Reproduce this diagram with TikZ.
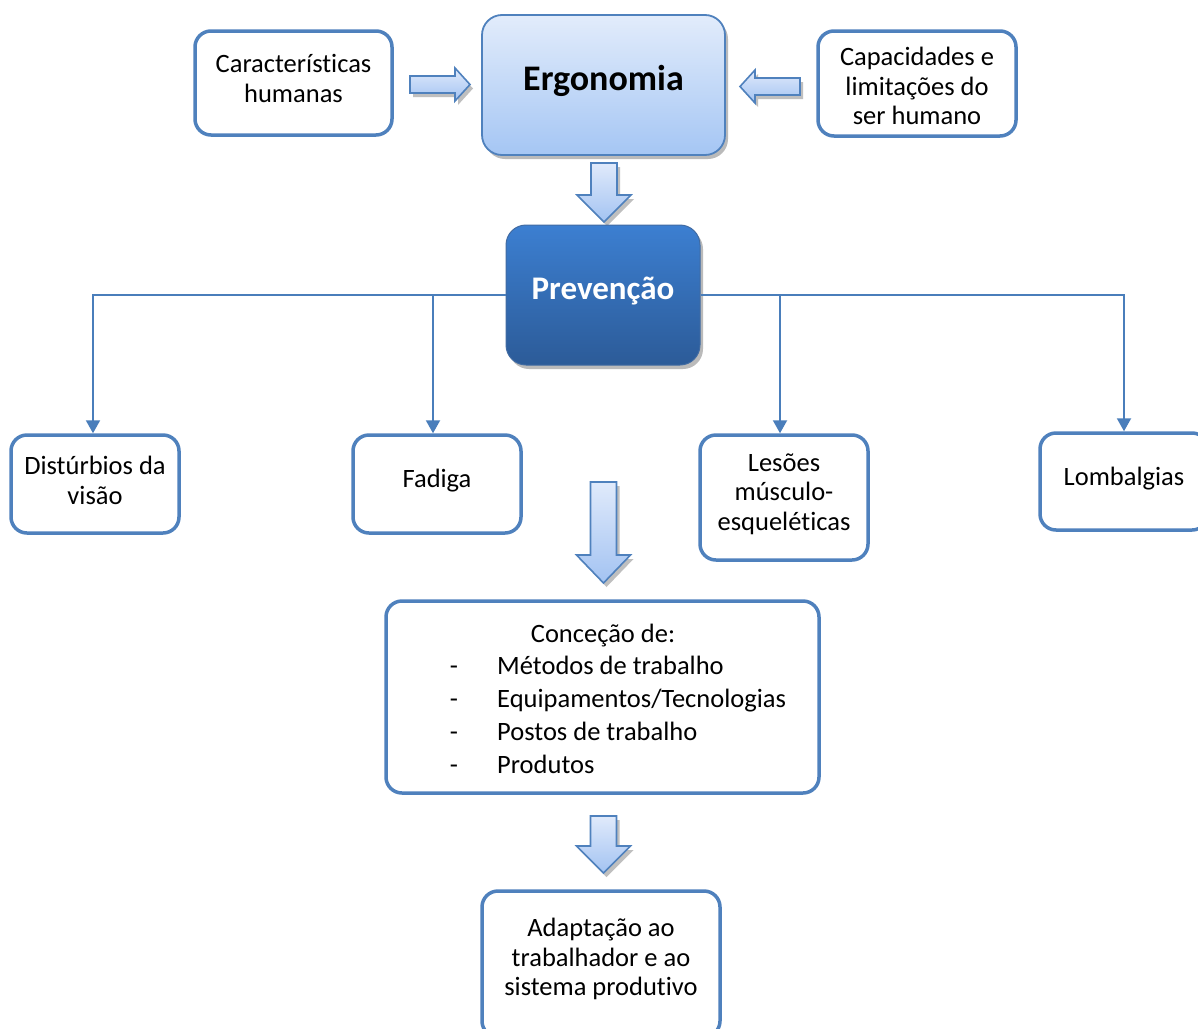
\documentclass[tikz,border=0pt]{standalone}
\usepackage{fontspec}
\setmainfont{Carlito}[Ligatures=NoCommon]
\usetikzlibrary{arrows.meta,shadows}
\definecolor{bord}{HTML}{4F81BD}
\definecolor{lineblue}{HTML}{4A7EBB}
\definecolor{ergtop}{HTML}{E2ECFB}
\definecolor{ergbot}{HTML}{A5C6F4}
\definecolor{prevtop}{HTML}{3C7FD1}
\definecolor{prevbot}{HTML}{2C5B98}
\definecolor{arrtop}{HTML}{E0EAFB}
\definecolor{arrbot}{HTML}{A3C3F2}
\newcommand\myarrdown[4]{%
  \begin{scope}[shift={(3,4)}]
  \fill[black!45,opacity=.55] (#1-13,#2) -- (#1+13,#2) -- (#1+13,#3) -- (#1+27,#3) -- (#1,#4) -- (#1-27,#3) -- (#1-13,#3) -- cycle;
  \end{scope}
  \shadedraw[top color=arrtop,bottom color=arrbot,draw=bord,line width=1.6pt,line join=miter]
    (#1-13,#2) -- (#1+13,#2) -- (#1+13,#3) -- (#1+27,#3) -- (#1,#4) -- (#1-27,#3) -- (#1-13,#3) -- cycle;}
\newcommand\myarrh[4]{%
  \begin{scope}[shift={(3,4)}]
  \fill[black!45,opacity=.55] (#1,#4-8.5) -- (#2,#4-8.5) -- (#2,#4-16.5) -- (#3,#4) -- (#2,#4+16.5) -- (#2,#4+8.5) -- (#1,#4+8.5) -- cycle;
  \end{scope}
  \shadedraw[top color=arrtop,bottom color=arrbot,draw=bord,line width=1.6pt,line join=miter]
    (#1,#4-8.5) -- (#2,#4-8.5) -- (#2,#4-16.5) -- (#3,#4) -- (#2,#4+16.5) -- (#2,#4+8.5) -- (#1,#4+8.5) -- cycle;}
\begin{document}
\begin{tikzpicture}[x=1pt,y=-1pt,
  box/.style={draw=bord,line width=3.5pt,rounded corners=16pt,fill=white,inner sep=0pt},
  txt/.style={align=center,inner sep=0pt,font=\fontsize{26.5}{29.5}\selectfont},
  conn/.style={draw=lineblue,line width=2pt,-{Triangle[width=14pt,length=13pt]}},
  itemtxt/.style={anchor=base west,inner sep=0pt,font=\fontsize{26.5}{29.5}\selectfont},
  dashtxt/.style={anchor=base,inner sep=0pt,font=\fontsize{26.5}{29.5}\selectfont}]
\useasboundingbox (0,0) rectangle (1198,1028);
\fill[white] (0,0) rectangle (1198,1028);

% top row
\node[box,minimum width=197pt,minimum height=104pt] (car) at (293.5,83) {};
\node[txt] (cart) at (293.5,78.5) {Características\\humanas};
\node[box,minimum width=198pt,minimum height=105pt] (cap) at (917,83.5) {};
\node[txt] (capt) at (917,86) {Capacidades e\\limitações do\\ser humano};
\node[draw=bord,line width=1.8pt,rounded corners=20pt,top color=ergtop,bottom color=ergbot,
  minimum width=243pt,minimum height=140pt,inner sep=0pt,
  drop shadow={shadow xshift=3pt,shadow yshift=-4pt,fill=black!45,opacity=.6}] (erg) at (603.5,85) {};
\node[inner sep=0pt,font=\fontsize{36}{40}\selectfont\bfseries] (ergt) at (603.5,81) {Ergonomia};

\myarrh{410}{455}{470}{84.5}
\myarrh{800}{755}{740}{86.5}
\myarrdown{604}{163}{195}{222}

% Prevencao
\node[draw=prevbot!90,line width=1pt,rounded corners=20pt,top color=prevtop,bottom color=prevbot,
  minimum width=194pt,minimum height=140pt,inner sep=0pt,
  drop shadow={shadow xshift=3pt,shadow yshift=-4pt,fill=black!45,opacity=.6}] (prev) at (603,295) {};
\node[inner sep=0pt,text=white,font=\fontsize{33}{38}\selectfont\bfseries] (prevt) at (603,291.5) {Prevenção};

% second row
\node[box,minimum width=168pt,minimum height=98pt] (dist) at (95,484) {};
\node[txt] (distt) at (95,480.5) {Distúrbios da\\visão};
\node[box,minimum width=168pt,minimum height=98pt] (fad) at (437,484) {};
\node[txt] (fadt) at (437,481) {Fadiga};
\node[box,minimum width=168pt,minimum height=125pt] (les) at (784,497.5) {};
\node[txt] (lest) at (784,494) {Lesões\\músculo-\\esqueléticas};
\node[box,minimum width=168pt,minimum height=97pt] (lom) at (1124,481.5) {};
\node[txt] (lomt) at (1124,479) {Lombalgias};

\draw[conn] (prev.west) -| ([xshift=-2pt]dist.north);
\draw[conn] (prev.west) -| ([xshift=-4pt]fad.north);
\draw[conn] (prev.east) -| ([xshift=-4pt]les.north);
\draw[conn] (prev.east) -| (lom.north);

\myarrdown{603.5}{482}{555}{583}

% Concecao
\node[box,minimum width=433pt,minimum height=192pt] (con) at (602.5,697) {};
\node[dashtxt] (conh) at (603,642) {Conceção de:};
\foreach \t [count=\i] in {Métodos de trabalho,Equipamentos/Tecnologias,Postos de trabalho,Produtos}{
  \node[dashtxt] (d\i) at (454,641+33*\i) {-};
  \node[itemtxt] (it\i) at (497,641+33*\i) {\t};
}

\myarrdown{603.5}{816}{846}{873}

\node[box,minimum width=238pt,minimum height=146pt] (ada) at (601,964) {};
\node[txt] (adat) at (601,959) {Adaptação ao\\trabalhador e ao\\sistema produtivo};
\end{tikzpicture}
\end{document}
